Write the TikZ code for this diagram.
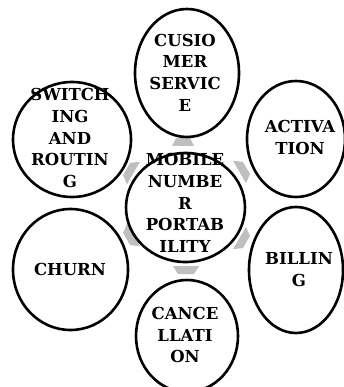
\documentclass[tikz,border=0pt]{standalone}
\usepackage{fontspec}
\setmainfont{DejaVu Serif}
\usetikzlibrary{shapes.geometric}
\begin{document}
\begin{tikzpicture}[x=1pt,y=-1pt,
  ell/.style={ellipse, draw=black, line width=2.6pt, inner sep=0pt},
  lbl/.style={align=center, font=\fontsize{16.5}{21.7}\selectfont\bfseries, inner sep=0pt},
  arr/.style={fill=gray!50, draw=none}]
\useasboundingbox (0,0) rectangle (343,387);
% gray block arrows pointing outward
\fill[arr, shift={(183,142)}, rotate=90]   (-4,-11) -- (4,-7) -- (4,7) -- (-4,11) -- cycle;
\fill[arr, shift={(186,270)}, rotate=-90]  (-4,-13) -- (4,-8) -- (4,8) -- (-4,13) -- cycle;
\fill[arr, shift={(130,171)}, rotate=150]  (-4,-13) -- (4,-7) -- (4,7) -- (-4,13) -- cycle;
\fill[arr, shift={(243,170)}, rotate=30]   (-4,-13) -- (4,-7) -- (4,7) -- (-4,13) -- cycle;
\fill[arr, shift={(130,237)}, rotate=-150] (-4,-13) -- (4,-7) -- (4,7) -- (-4,13) -- cycle;
\fill[arr, shift={(243,240)}, rotate=-30]  (-4,-13) -- (4,-7) -- (4,7) -- (-4,13) -- cycle;
% ellipses
\node[ell, minimum width=104pt, minimum height=128pt] (cs)  at (187,73) {};
\node[ell, minimum width=118pt, minimum height=115pt] (sw)  at (72,139.5) {};
\node[ell, minimum width=98pt,  minimum height=116pt] (act) at (296,139) {};
\node[ell, minimum width=119pt, minimum height=109pt] (mnp) at (185.5,207.5) {};
\node[ell, minimum width=115pt, minimum height=121pt] (ch)  at (70.5,269.5) {};
\node[ell, minimum width=94pt,  minimum height=126pt] (bil) at (296,270) {};
\node[ell, minimum width=102pt, minimum height=112pt] (can) at (187,336) {};
% labels
\node[lbl] (tcs)  at (185,72.5) {CUSIO\\MER\\SERVIC\\E};
\node[lbl] (tsw)  at (70,138) {SWITCH\\ING\\AND\\ROUTIN\\G};
\node[lbl] (tact) at (300,137.5) {ACTIVA\\TION};
\node[lbl] (tmnp) at (185,203) {MOBILE\\NUMBE\\R\\PORTAB\\ILITY};
\node[lbl] (tch)  at (70,269.5) {CHURN};
\node[lbl] (tbil) at (299,269.5) {BILLIN\\G};
\node[lbl] (tcan) at (185,335) {CANCE\\LLATI\\ON};
\end{tikzpicture}
\end{document}
